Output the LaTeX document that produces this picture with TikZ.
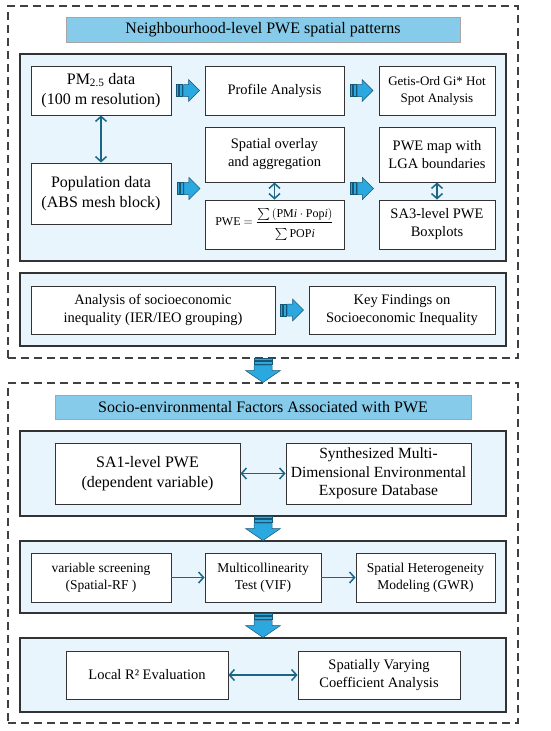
\documentclass[tikz,border=0pt]{standalone}
\usepackage{amsmath}
\usepackage{fontspec}
\setmainfont{Liberation Serif}
\usepackage{tikz}
\usetikzlibrary{arrows.meta,positioning,calc}

\definecolor{titlefill}{RGB}{135,203,234}
\definecolor{panelfill}{RGB}{232,245,252}
\definecolor{arrowfill}{RGB}{44,168,224}
\definecolor{arrowline}{RGB}{22,86,118}
\definecolor{linkcol}{RGB}{27,102,134}

\tikzset{
  rblock/.pic={
    \draw[blockar] (-11.5,-6) rectangle (-9.5,6);
    \draw[blockar] (-8.5,-6) rectangle (-5.5,6);
    \draw[blockar] (-4.5,-6) -- (0.5,-6) -- (0.5,-11) -- (11.5,0) -- (0.5,11) -- (0.5,6) -- (-4.5,6) -- cycle;
  },
  dblock/.pic={
    \draw[blockar] (-9,-12) rectangle (9,-10);
    \draw[blockar] (-9,-9) rectangle (9,-6);
    \draw[blockar] (-9,-5) -- (-9,0) -- (-17.5,0) -- (0,12) -- (17.5,0) -- (9,0) -- (9,-5) -- cycle;
  }
}

\begin{document}
\begin{tikzpicture}[x=1pt,y=-1pt,
  outer/.style={draw=black!75,dash pattern=on 8pt off 5pt,line width=1.2pt,inner sep=0pt},
  titlebar/.style={draw=gray!70,fill=titlefill,line width=0.8pt,inner sep=0pt,
                   font=\fontsize{16}{19}\selectfont},
  panel/.style={draw=black!80,fill=panelfill,line width=1.3pt,inner sep=0pt},
  box/.style={draw=black!80,fill=white,line width=0.9pt,inner sep=2pt,align=center,
              font=\fontsize{14.5}{18}\selectfont},
  bigbox/.style={box,font=\fontsize{16}{20.5}\selectfont},
  smallbox/.style={box,font=\fontsize{13.5}{17}\selectfont},
  blockar/.style={draw=arrowline,fill=arrowfill,line width=0.5pt,line join=miter},
  link/.style={draw=linkcol,line width=1.5pt},
  >={Straight Barb[length=5pt,width=11pt]}]

\useasboundingbox (0,0) rectangle (550,731);

% upper part
\node[outer,minimum width=510,minimum height=352] (outer1) at (263,182) {};
\node[titlebar,minimum width=394,minimum height=25] (title1) at (263,29.5)
  {Neighbourhood-level PWE spatial patterns};
\node[panel,minimum width=486,minimum height=207] (panel1) at (263,157.5) {};
\node[panel,minimum width=486,minimum height=73] (panel2) at (263,309.5) {};

\node[bigbox,minimum width=140,minimum height=49] (pm) at (101,90.5)
  {PM\textsubscript{2.5} data\\(100 m resolution)};
\node[box,minimum width=139,minimum height=49] (prof) at (274.5,90.5) {Profile Analysis};
\node[box,minimum width=116,minimum height=49,font=\fontsize{13}{17}\selectfont] (getis) at (437,90.5)
  {Getis-Ord Gi* Hot\\Spot Analysis};
\node[box,minimum width=139,minimum height=55] (overlay) at (274.5,154.5)
  {Spatial overlay\\and aggregation};
\node[box,minimum width=116,minimum height=55] (pwemap) at (437,154.5)
  {PWE map with\\LGA boundaries};
\node[bigbox,minimum width=140,minimum height=61] (pop) at (101,193.5)
  {Population data\\(ABS mesh block)};
\node[box,minimum width=139,minimum height=49,font=\fontsize{12}{14}\selectfont] (formula) at (274.5,224.5)
  {PWE $=\dfrac{\sum\,(\mathrm{PM}\mathit{i}\cdot\mathrm{Pop}\mathit{i})\rule[-3pt]{0pt}{3pt}}{\sum\mathrm{POP}\mathit{i}\rule{0pt}{13pt}}$};
\node[box,minimum width=116,minimum height=49] (sa3) at (437,224.5)
  {SA3-level PWE\\Boxplots};

\node[box,minimum width=244,minimum height=48] (analysis) at (153,310)
  {Analysis of socioeconomic\\inequality (IER/IEO grouping)};
\node[box,minimum width=186,minimum height=48] (keyf) at (402,310)
  {Key Findings on\\Socioeconomic Inequality};

% lower part
\node[outer,minimum width=510,minimum height=340] (outer2) at (263,553) {};
\node[titlebar,minimum width=416,minimum height=24] (title2) at (263,407)
  {Socio-environmental Factors Associated with PWE};
\node[panel,minimum width=486,minimum height=85] (panel3) at (263,473.5) {};
\node[panel,minimum width=486,minimum height=72] (panel4) at (263,577) {};
\node[panel,minimum width=486,minimum height=74] (panel5) at (263,675) {};

\node[bigbox,minimum width=185,minimum height=61] (sa1) at (147.5,473.5)
  {SA1-level PWE\\(dependent variable)};
\node[box,minimum width=185,minimum height=61,font=\fontsize{15.5}{18.5}\selectfont] (synth) at (378.5,473.5)
  {Synthesized Multi-\\Dimensional Environmental\\Exposure Database};

\node[smallbox,minimum width=140,minimum height=49] (varscr) at (101,577.5)
  {variable screening\\(Spatial-RF )};
\node[smallbox,minimum width=116,minimum height=49] (multi) at (263,577.5)
  {Multicollinearity\\Test (VIF)};
\node[smallbox,minimum width=139,minimum height=49] (hetero) at (425.5,577.5)
  {Spatial Heterogeneity\\Modeling (GWR)};

\node[box,minimum width=162,minimum height=48] (localr) at (147,675) {Local R² Evaluation};
\node[box,minimum width=162,minimum height=48] (svc) at (379,675)
  {Spatially Varying\\Coefficient Analysis};

% block arrows
\foreach \a/\b in {pm/prof,prof/getis,analysis/keyf}
  \pic at ($(\a.east)!0.5!(\b.west)$) {rblock};
\pic at ($(pop.east)+(17,-5)$) {rblock};
\pic at ($(overlay.east|-pop.east)+(17.5,-5)$) {rblock};

\foreach \a/\b in {outer1/outer2,panel3/panel4,panel4/panel5}
  \pic at ($(\a.south)!0.5!(\b.north)$) {dblock};

% connectors
\foreach \a/\b in {pm/pop,overlay/formula,pwemap/sa3,sa1/synth,localr/svc}
  \draw[link,<->] (\a) -- (\b);
\draw[link,->] (varscr) -- (multi);
\draw[link,->] (multi) -- (hetero);
\end{tikzpicture}
\end{document}
